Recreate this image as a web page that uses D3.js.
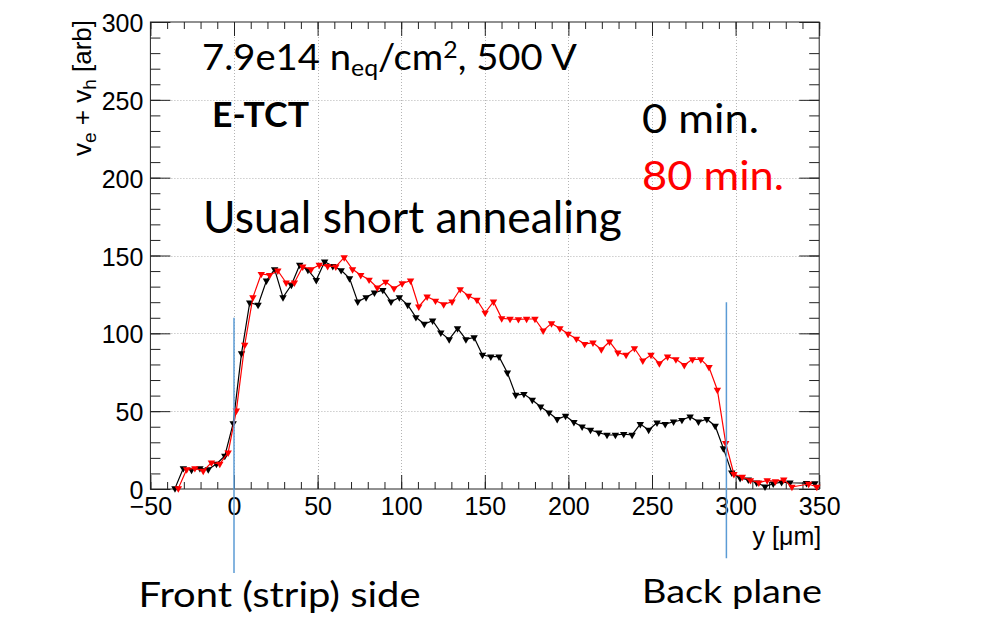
<!DOCTYPE html>
<html>
<head>
<meta charset="utf-8">
<script src="https://cdn.jsdelivr.net/npm/d3@7"></script>
<style>
  body { margin: 0; background: #fff; }
  svg { display: block; }
</style>
</head>
<body>
<div id="chart"></div>
<script>
// position along the sensor depth [um], 0 min. annealing (black)
var blackX = [-35.3, -30.3, -25.4, -20.4, -15.4, -10.5, -5.5, -0.5, 4.5, 9.4,
    14.4, 19.4, 24.3, 29.3, 34.3, 39.3, 44.2, 49.2, 54.2, 59.1,
    64.1, 69.1, 74.0, 79.0, 84.0, 89.0, 93.9, 98.9, 103.9, 108.8,
    113.8, 118.8, 123.7, 128.7, 133.7, 138.7, 143.6, 148.6, 153.6, 158.5,
    163.5, 168.5, 173.4, 178.4, 183.4, 188.4, 193.3, 198.3, 203.3, 208.2,
    213.2, 218.2, 223.1, 228.1, 233.1, 238.1, 243.0, 248.0, 253.0, 257.9,
    262.9, 267.9, 272.8, 277.8, 282.8, 287.8, 292.7, 297.7, 302.7, 307.6,
    312.6, 317.6, 322.5, 327.5, 332.5, 342.4, 347.4];
var blackY = [0.4, 13.3, 12.2, 13.3, 12.6, 16.1, 21.2, 42.2, 87.1, 119.7,
    118.2, 133.8, 141.1, 123.1, 131, 143.9, 140.7, 134.2, 146, 143.2,
    140.5, 135.3, 120.3, 123.1, 126.1, 127.8, 120.3, 123.1, 118.2, 110.3,
    106, 108.1, 100.4, 96.1, 103.2, 96.1, 97.4, 86.1, 85, 85,
    74.7, 60.4, 61, 57.2, 52.9, 49, 44.8, 46.9, 42.9, 40,
    37.9, 36.2, 34.7, 34.7, 35.3, 34.7, 41.7, 37.9, 42.6, 41.7,
    43.2, 44.3, 46.4, 43.2, 44.8, 40.5, 26.1, 10.5, 7, 6,
    4, 1.5, 3.4, 4.4, 4, 3.8, 3.6];

// 80 min. annealing (red)
var redX = [-33.3, -28.3, -23.4, -18.4, -13.5, -8.5, -3.5, 1.4, 6.4, 11.3,
    16.3, 21.3, 26.2, 31.2, 36.1, 41.1, 46.1, 51.0, 56.0, 60.9,
    65.9, 70.9, 75.8, 80.8, 85.7, 90.7, 95.7, 100.6, 105.6, 110.5,
    115.5, 120.5, 125.4, 130.4, 135.3, 140.3, 145.3, 150.2, 155.2, 160.1,
    165.1, 170.1, 175.0, 180.0, 184.9, 189.9, 194.9, 199.8, 204.8, 209.7,
    214.7, 219.7, 224.6, 229.6, 234.5, 239.5, 244.5, 249.4, 254.4, 259.3,
    264.3, 269.3, 274.2, 279.2, 284.1, 289.1, 294.1, 299.0, 304.0, 308.9,
    313.9, 318.9, 323.8, 328.8, 333.7, 343.7, 348.6];
var redY = [0.4, 12.6, 13.3, 11.6, 16.9, 16.1, 23.3, 50.3, 92.5, 123.1,
    138.1, 137.4, 140.2, 132.5, 132.5, 142.8, 141.1, 143.9, 143.2, 142.8,
    148.8, 141.1, 137.4, 134.4, 129.3, 133.1, 128.9, 132.1, 133.8, 117.1,
    123.5, 120.9, 118.6, 120.3, 128.3, 124, 121.4, 113.2, 120.3, 109.6,
    109.2, 109, 109.2, 109.2, 101.7, 106.4, 103.2, 99.6, 96.5, 93.1,
    94, 89.7, 94.6, 87.6, 86.1, 90.4, 82.4, 86.1, 80.7, 85,
    83.3, 79.6, 83.3, 83.3, 78.2, 63.6, 29.5, 9.5, 7.7, 5.6,
    4.1, 5.5, 4.9, 6, 1.3, 3.2, 1.3];

// axis ticks
var xTicks = [-50, 0, 50, 100, 150, 200, 250, 300, 350];
var yTicks = [0, 50, 100, 150, 200, 250, 300];

// blue marker lines: front / back surface (x, top value, bottom value below axis)
var edgeX = [0, 294.5];
var edgeTop = [110, 120];
var edgeBottom = [-54, -44.5];

var width = 989, height = 637;
var frame = {left: 150.4, right: 819.2, top: 22, bottom: 489};

var svg = d3.select("#chart").append("svg")
    .attr("width", width)
    .attr("height", height)
    .style("font-family", "'Liberation Sans', Arial, sans-serif");

svg.append("rect").attr("width", width).attr("height", height).attr("fill", "#fff");

var x = d3.scaleLinear().domain([-50, 350]).range([frame.left, frame.right]);
var y = d3.scaleLinear().domain([0, 300]).range([frame.bottom, frame.top]);

// dotted grid
var grid = svg.append("g").attr("stroke", "#b4b4b4").attr("stroke-width", 1)
    .attr("stroke-dasharray", "1,2");
grid.selectAll("line.gx").data(xTicks.slice(1, -1)).enter().append("line")
    .attr("x1", d => Math.round(x(d)) + 0.5).attr("x2", d => Math.round(x(d)) + 0.5)
    .attr("y1", frame.top).attr("y2", frame.bottom);
grid.selectAll("line.gy").data(yTicks.slice(1, -1)).enter().append("line")
    .attr("y1", d => Math.round(y(d)) + 0.5).attr("y2", d => Math.round(y(d)) + 0.5)
    .attr("x1", frame.left).attr("x2", frame.right);

var fh = frame.bottom - frame.top, fw = frame.right - frame.left;
var minorX = d3.range(-50, 351, 10), minorY = d3.range(0, 301, 10);

function styleAxis(g) {
    g.select(".domain").remove();
    g.selectAll("line").attr("stroke", "#222");
    g.selectAll("text").attr("fill", "#000").style("font-size", "25px");
}

// bottom axis (ticks inside the frame)
svg.append("g").attr("transform", "translate(0," + frame.bottom + ")")
    .call(d3.axisBottom(x).tickValues(minorX).tickSize(-7).tickFormat(""))
    .call(styleAxis);
svg.append("g").attr("transform", "translate(0," + frame.bottom + ")")
    .call(d3.axisBottom(x).tickValues(xTicks).tickSize(-14).tickPadding(8))
    .call(styleAxis);
// top axis
svg.append("g").attr("transform", "translate(0," + frame.top + ")")
    .call(d3.axisTop(x).tickValues(minorX).tickSize(-7).tickFormat(""))
    .call(styleAxis);
svg.append("g").attr("transform", "translate(0," + frame.top + ")")
    .call(d3.axisTop(x).tickValues(xTicks).tickSize(-14).tickFormat(""))
    .call(styleAxis);
// left axis
svg.append("g").attr("transform", "translate(" + frame.left + ",0)")
    .call(d3.axisLeft(y).tickValues(minorY).tickSize(-10).tickFormat(""))
    .call(styleAxis);
var yAxis = svg.append("g").attr("transform", "translate(" + frame.left + ",0)")
    .call(d3.axisLeft(y).tickValues(yTicks).tickSize(-20).tickPadding(7))
    .call(styleAxis);
yAxis.selectAll("text").attr("dy", "0.38em");
// right axis
svg.append("g").attr("transform", "translate(" + frame.right + ",0)")
    .call(d3.axisRight(y).tickValues(minorY).tickSize(-10).tickFormat(""))
    .call(styleAxis);
svg.append("g").attr("transform", "translate(" + frame.right + ",0)")
    .call(d3.axisRight(y).tickValues(yTicks).tickSize(-20).tickFormat(""))
    .call(styleAxis);

// frame
svg.append("rect")
    .attr("x", frame.left).attr("y", frame.top)
    .attr("width", fw).attr("height", fh)
    .attr("fill", "none").attr("stroke", "#222").attr("stroke-width", 1);

// axis titles
svg.append("text")
    .attr("x", frame.right + 2).attr("y", 545)
    .attr("text-anchor", "end")
    .style("font-size", "25px")
    .text("y [\u03bcm]");

var yTitle = svg.append("text")
    .attr("transform", "translate(91," + (frame.top - 2) + ") rotate(-90)")
    .attr("text-anchor", "end")
    .style("font-size", "26px");
yTitle.append("tspan").text("v");
yTitle.append("tspan").attr("dy", 5).style("font-size", "19px").text("e");
yTitle.append("tspan").attr("dy", -5).text(" + v");
yTitle.append("tspan").attr("dy", 5).style("font-size", "19px").text("h");
yTitle.append("tspan").attr("dy", -5).text(" [arb]");

// data series
function drawSeries(xs, ys, color) {
    var pts = xs.map((d, i) => [d, ys[i]]);
    svg.append("path")
        .datum(pts)
        .attr("fill", "none")
        .attr("stroke", color)
        .attr("stroke-width", 1.2)
        .attr("d", d3.line().x(d => x(d[0])).y(d => y(d[1])));
    svg.append("g").selectAll("path")
        .data(pts)
        .enter().append("path")
        .attr("transform", d => "translate(" + x(d[0]) + "," + y(d[1]) + ") rotate(180)")
        .attr("d", d3.symbol().type(d3.symbolTriangle).size(24))
        .attr("fill", color);
}
drawSeries(blackX, blackY, "#000");
drawSeries(redX, redY, "#ff0000");

// blue lines marking the sensor surfaces
svg.append("g").selectAll("line")
    .data(edgeX)
    .enter().append("line")
    .attr("x1", d => x(d)).attr("x2", d => x(d))
    .attr("y1", (d, i) => y(edgeTop[i]))
    .attr("y2", (d, i) => y(edgeBottom[i]))
    .attr("stroke", "#5b9bd5")
    .attr("stroke-width", 1.5);

// slide annotations
var note = svg.append("g").style("font-family", "Lato, 'Open Sans', sans-serif").attr("fill", "#000");

var t1 = note.append("text").attr("x", 202).attr("y", 70)
    .attr("textLength", 375).attr("lengthAdjust", "spacingAndGlyphs")
    .style("font-size", "37px");
t1.append("tspan").text("7.9e14 n");
t1.append("tspan").attr("dy", 6).style("font-size", "24px").text("eq");
t1.append("tspan").attr("dy", -6).text("/cm");
t1.append("tspan").attr("dy", -12).style("font-size", "24px").text("2");
t1.append("tspan").attr("dy", 12).text(", 500 V");

note.append("text").attr("x", 212).attr("y", 126.7)
    .attr("textLength", 97).attr("lengthAdjust", "spacingAndGlyphs")
    .style("font-size", "34px").style("font-weight", "bold")
    .text("E-TCT");

note.append("text").attr("x", 203).attr("y", 233.3)
    .attr("textLength", 419).attr("lengthAdjust", "spacingAndGlyphs")
    .style("font-size", "44px")
    .text("Usual short annealing");

note.append("text").attr("x", 642).attr("y", 133)
    .attr("textLength", 117).attr("lengthAdjust", "spacingAndGlyphs")
    .style("font-size", "40px")
    .text("0 min.");

note.append("text").attr("x", 642).attr("y", 190)
    .attr("textLength", 142).attr("lengthAdjust", "spacingAndGlyphs")
    .style("font-size", "40px").attr("fill", "#ff0000")
    .text("80 min.");

note.append("text").attr("x", 138.5).attr("y", 606.7)
    .attr("textLength", 282).attr("lengthAdjust", "spacingAndGlyphs")
    .style("font-size", "35px")
    .text("Front (strip) side");

note.append("text").attr("x", 642).attr("y", 603.3)
    .attr("textLength", 180).attr("lengthAdjust", "spacingAndGlyphs")
    .style("font-size", "33px")
    .text("Back plane");
</script>
</body>
</html>
